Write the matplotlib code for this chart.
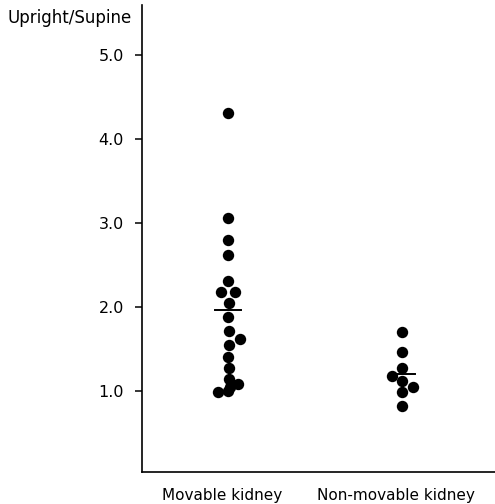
import matplotlib as mpl
mpl.use('Agg')
import matplotlib.pyplot as plt
from matplotlib.transforms import ScaledTranslation

# values
groups = ["Movable kidney", "Non-movable kidney"]
group_pos = [1.0, 2.0]

movable = [4.30, 3.06, 2.79, 2.62, 2.30, 2.17, 2.17, 2.04, 1.88, 1.71,
           1.62, 1.54, 1.40, 1.27, 1.14, 1.08, 1.05, 1.00, 0.99]
movable_dx = [0, 0, 0, 0, 0, -0.04, 0.04, 0.005, 0, 0.005,
              0.07, 0.005, 0, 0.005, 0.005, 0.06, 0.01, 0, -0.06]
movable_mean = 1.96

nonmovable = [1.70, 1.46, 1.27, 1.17, 1.11, 1.04, 0.98, 0.82]
nonmovable_dx = [0, 0, 0, -0.058, 0, 0.063, 0, 0]
nonmovable_mean = 1.20

yticks = [1.0, 2.0, 3.0, 4.0, 5.0]
ytick_labels = ["1.0", "2.0", "3.0", "4.0", "5.0"]

fig = plt.figure(figsize=(4.95, 5.04), dpi=100)
ax = fig.add_axes([0.287, 0.064, 0.713, 0.926])

series = [(movable, movable_dx, movable_mean, 0.075, 0.0),
          (nonmovable, nonmovable_dx, nonmovable_mean, 0.06, 0.015)]
for pos, (vals, dx, mean, half, shift) in zip(group_pos, series):
    xs = [pos + d for d in dx]
    ax.plot(xs, vals, 'o', color='black', markersize=8.2,
            markeredgewidth=0, linestyle='none')
    ax.plot([pos - half + shift, pos + half + shift], [mean, mean],
            color='black', linewidth=1.4)

ax.set_xlim(0.505, 2.537)
ax.set_ylim(0.036, 5.59)

for side in ['top', 'right']:
    ax.spines[side].set_visible(False)
ax.spines['left'].set_linewidth(1.2)
ax.spines['bottom'].set_linewidth(1.2)

ax.set_yticks(yticks)
ax.set_yticklabels(ytick_labels, fontsize=11.5)
ax.tick_params(axis='y', length=5, width=1.1, pad=8)
ax.set_xticks(group_pos)
ax.set_xticklabels(groups, fontsize=11)
ax.tick_params(axis='x', length=0, pad=12)
# labels sit a little left of the dot columns in the original
for lbl in ax.get_xticklabels():
    lbl.set_transform(lbl.get_transform() + ScaledTranslation(-6 / 100, 0, fig.dpi_scale_trans))

fig.text(0.016, 0.964, "Upright/Supine", fontsize=12, ha='left', va='center')

fig.savefig('out.png', dpi=100)
